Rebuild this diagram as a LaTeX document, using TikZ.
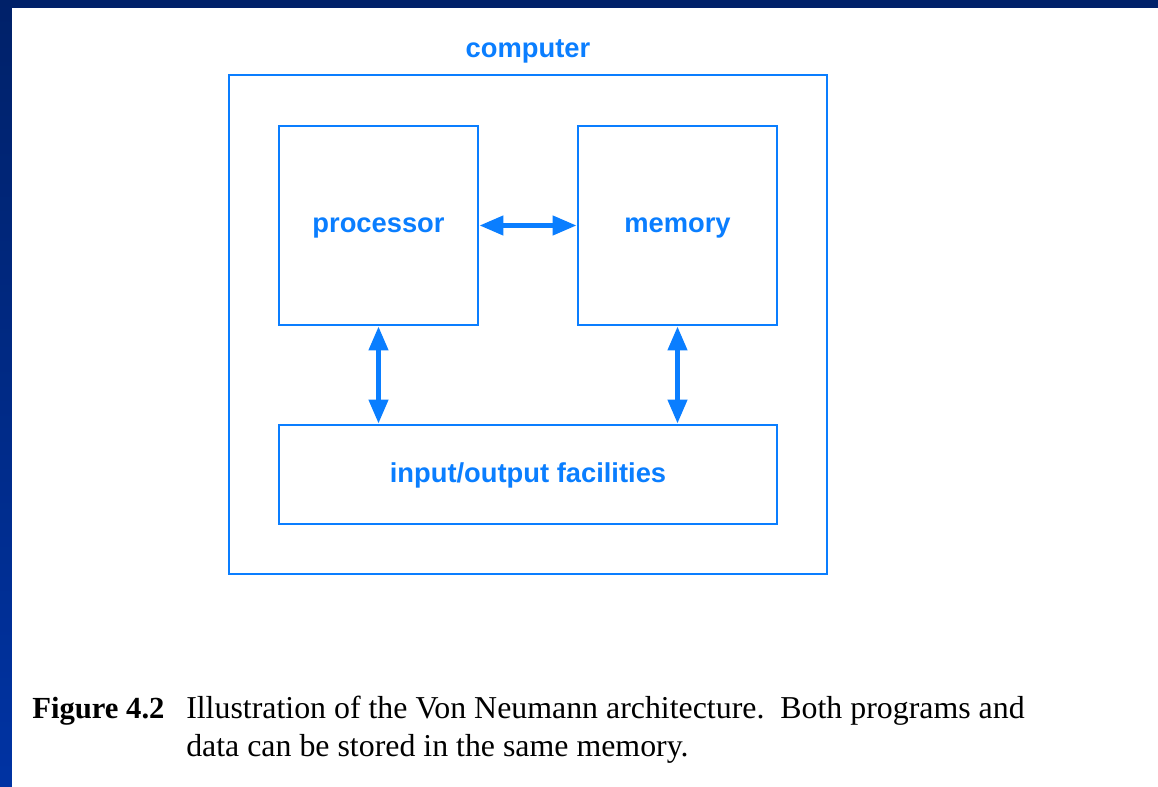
\documentclass[tikz,border=0pt]{standalone}
\usepackage{fontspec}
\setmainfont{Liberation Serif}
\setsansfont{Liberation Sans}
\usetikzlibrary{arrows.meta}
\definecolor{archblue}{HTML}{0A7EFF}
\definecolor{navytop}{HTML}{002169}
\definecolor{navybot}{HTML}{0033A3}
\tikzset{
  unitbox/.style={draw=archblue, line width=2pt, inner sep=0pt},
  unitlabel/.style={font=\sffamily\bfseries\fontsize{20.5}{24}\selectfont, text=archblue, inner sep=0pt},
  bus/.style={draw=archblue, line width=3.8pt,
    {Triangle[length=18pt,width=14pt]}-{Triangle[length=18pt,width=14pt]}},
  caption/.style={font=\fontsize{23.9}{28.5}\selectfont, inner sep=0pt}
}
\begin{document}
\begin{tikzpicture}[x=0.75pt,y=-0.75pt]
  \useasboundingbox (0,0) rectangle (1158,787);
  % slide frame
  \fill[top color=navytop, bottom color=navybot] (0,0) rectangle (1158,787);
  \fill[white] (12,8) rectangle (1158,787);

  % computer and its parts
  \node[unitbox, minimum width=598*0.75pt, minimum height=499*0.75pt] (comp) at (528,324.5) {};
  \node[unitlabel] (complbl) at (528,51) {computer};
  \node[unitbox, minimum width=199*0.75pt, minimum height=199*0.75pt] (proc) at (378.5,225.5) {};
  \node[unitbox, minimum width=199*0.75pt, minimum height=199*0.75pt] (mem) at (677.5,225.5) {};
  \node[unitbox, minimum width=498*0.75pt, minimum height=99*0.75pt] (io) at (528,474.5) {};
  \node[unitlabel] (proclbl) at ([yshift=-1.5pt]proc.center) {processor};
  \node[unitlabel] (memlbl) at ([yshift=-1.5pt]mem.center) {memory};
  \node[unitlabel] (iolbl) at ([yshift=-1pt]io.center) {input/output facilities};

  % connections
  \draw[bus] (proc.east) -- (mem.west);
  \draw[bus] (proc.south) -- (proc.south |- io.north);
  \draw[bus] (mem.south) -- (mem.south |- io.north);

  % caption
  \node[caption, anchor=base west] (fig) at (32,719) {\fontsize{23}{28.5}\selectfont\textbf{Figure 4.2}};
  \node[caption, anchor=base west] (cap1) at (186,719) {Illustration of the Von Neumann architecture.\ \ Both programs and};
  \node[caption, anchor=base west] (cap2) at (186,757) {data can be stored in the same memory.};
\end{tikzpicture}
\end{document}
